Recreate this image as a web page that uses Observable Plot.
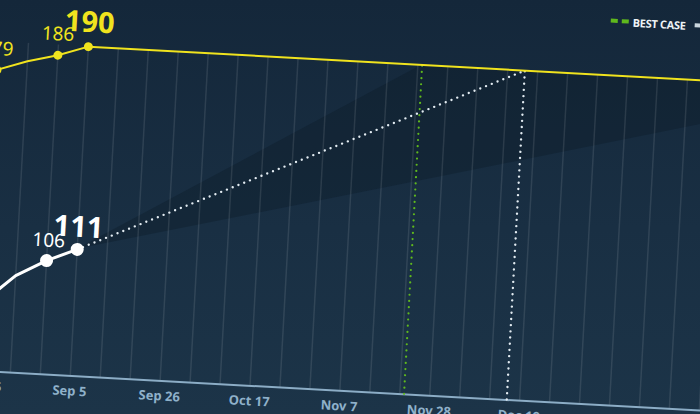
<!DOCTYPE html>
<html>
<head>
<meta charset="utf-8">
<script src="https://cdn.jsdelivr.net/npm/d3@7"></script>
<script src="https://cdn.jsdelivr.net/npm/@observablehq/plot@0.6"></script>
<style>
  html, body { margin: 0; padding: 0; background: #172b3d; }
  #wrap { position: relative; width: 700px; height: 414px; overflow: hidden;
          background: linear-gradient(to bottom, #14273a 0%, #192f43 55%, #1c3448 100%);
          font-family: "Open Sans", sans-serif; }
  #rot { position: absolute; left: 0; top: 0; width: 900px; height: 500px;
         transform-origin: 0 0; transform: rotate(3.15deg); }
  #chart { position: absolute; left: -40px; top: -40px; }
  #legend { position: absolute; left: 611px; top: -21px; height: 16px; display: flex;
            align-items: center; white-space: nowrap; font-family: "Open Sans", sans-serif;
            font-weight: 700; font-size: 11px; color: #eef3f6; letter-spacing: -0.3px; }
  .dash { display: inline-block; width: 7px; height: 3.5px; margin-right: 4px; }
  .item { display: flex; align-items: center; margin-right: 9px; }
</style>
</head>
<body>
<div id="wrap">
  <div id="rot">
    <div id="chart"></div>
    <div id="legend">
      <span class="item"><span class="dash" style="background:#5fb81d"></span><span class="dash" style="background:#5fb81d"></span><span style="margin-left:0px">BEST CASE</span></span>
      <span class="item"><span class="dash" style="background:#c9d5dd"></span><span class="dash" style="background:#c9d5dd"></span><span style="margin-left:0px">MOST LIKELY</span></span>
    </div>
  </div>
</div>
<script>
const parse = d3.utcParse("%Y-%m-%d");

// observed weekly series
const obsDates = ["2020-08-15", "2020-08-22", "2020-08-29", "2020-09-05"];
const whiteValues = [89, 99.5, 106, 111];
const yellowValues = [179, 183, 186, 190];

// labelled points
const yellowDotDates = ["2020-08-15", "2020-08-29", "2020-09-05"];
const yellowDotValues = [179, 186, 190];
const yellowDotLabels = ["179", "186", "190"];
const whiteDotDates = ["2020-08-29", "2020-09-05"];
const whiteDotValues = [106, 111];
const whiteDotLabels = ["106", "111"];

// target line and projections
const targetValue = 190;
const targetDates = ["2020-09-05", "2021-02-13"];
const projDates = ["2020-09-05", "2020-12-16"];
const projValues = [111, 190];
const bestCaseDate = "2020-11-22";
const expectedDate = "2020-12-16";

// uncertainty cone
const coneDates = ["2020-09-05", "2020-11-22", "2021-02-13"];
const coneLow = [111, 144.5, 180.3];
const coneHigh = [111, 190, 190];

// axis
const tickDates = ["2020-08-15", "2020-09-05", "2020-09-26", "2020-10-17", "2020-11-07",
                   "2020-11-28", "2020-12-19", "2021-01-09", "2021-01-30"];
const gridStart = "2020-08-08";
const gridEnd = "2021-02-13";
const yBase = 61.7;

const fmt = d3.utcFormat("%b %-d");
const obs = obsDates.map((d, i) => ({date: parse(d), white: whiteValues[i], yellow: yellowValues[i]}));
const yDots = yellowDotDates.map((d, i) => ({date: parse(d), v: yellowDotValues[i], label: yellowDotLabels[i]}));
const wDots = whiteDotDates.map((d, i) => ({date: parse(d), v: whiteDotValues[i], label: whiteDotLabels[i]}));
const target = targetDates.map(d => ({date: parse(d), v: targetValue}));
const proj = projDates.map((d, i) => ({date: parse(d), v: projValues[i]}));
const cone = coneDates.map((d, i) => ({date: parse(d), lo: coneLow[i], hi: coneHigh[i]}));
const ticks = tickDates.map(parse);
const grid = d3.utcSaturday.range(parse(gridStart), parse(gridEnd));
const lastIdxY = yDots.length - 1;
const lastIdxW = wDots.length - 1;

const yellow = "#f0e31e";
const white = "#ffffff";

const chart = Plot.plot({
  width: 860,
  height: 480,
  marginLeft: 0, marginRight: 0, marginTop: 0, marginBottom: 0,
  style: {background: "transparent", overflow: "visible", maxWidth: "none"},
  x: {type: "utc", domain: [parse("2020-08-08"), parse("2021-02-13")], range: [10.3, 820.3], axis: null},
  y: {domain: [yBase, 200], range: [411, 55.5], axis: null},
  marks: [
    Plot.areaY(cone, {x: "date", y1: "lo", y2: "hi", fill: "#0b1822", fillOpacity: 0.3}),
    Plot.ruleX(grid, {x: d => d, y1: yBase, y2: targetValue, stroke: "#ffffff", strokeOpacity: 0.1, strokeWidth: 1.5}),
    Plot.ruleY([yBase], {stroke: "#8cadc6", strokeWidth: 2}),
    Plot.text(ticks, {x: d => d, y: yBase, dy: 15.4, text: d => fmt(d), fill: "#8fb1ca",
                      fontSize: 13, fontWeight: 700}),
    Plot.ruleX([parse(bestCaseDate)], {y1: yBase, y2: targetValue, stroke: "#5fb81d", strokeWidth: 2.2,
                      strokeDasharray: "0 6.2", strokeLinecap: "round"}),
    Plot.ruleX([parse(expectedDate)], {y1: yBase, y2: targetValue, stroke: "#e2ebf1", strokeWidth: 2.4,
                      strokeDasharray: "0 6.2", strokeLinecap: "round"}),
    Plot.line(target, {x: "date", y: "v", stroke: yellow, strokeWidth: 2}),
    Plot.line(proj, {x: "date", y: "v", stroke: "#e2ebf1", strokeWidth: 2.4,
                      strokeDasharray: "0 6.2", strokeLinecap: "round"}),
    Plot.line(obs, {x: "date", y: "yellow", stroke: yellow, strokeWidth: 2}),
    Plot.line(obs, {x: "date", y: "white", stroke: white, strokeWidth: 3}),
    Plot.dot(yDots, {x: "date", y: "v", r: 4.5, fill: yellow}),
    Plot.dot(wDots, {x: "date", y: "v", r: 6.5, fill: white}),
    Plot.text(yDots, {x: "date", y: "v", text: "label", fill: yellow, dy: -21, dx: -1,
                      fontSize: 19, fontWeight: 400, filter: (d, i) => i < lastIdxY}),
    Plot.text(yDots, {x: "date", y: "v", text: "label", fill: yellow, dy: -24,
                      fontSize: 29, fontWeight: 700, filter: (d, i) => i === lastIdxY}),
    Plot.text(wDots, {x: "date", y: "v", text: "label", fill: white, dy: -20, dx: 1,
                      fontSize: 19, fontWeight: 400, filter: (d, i) => i < lastIdxW}),
    Plot.text(wDots, {x: "date", y: "v", text: "label", fill: white, dy: -22,
                      fontSize: 29, fontWeight: 700, filter: (d, i) => i === lastIdxW})
  ]
});
document.getElementById("chart").appendChild(chart);
</script>
</body>
</html>
